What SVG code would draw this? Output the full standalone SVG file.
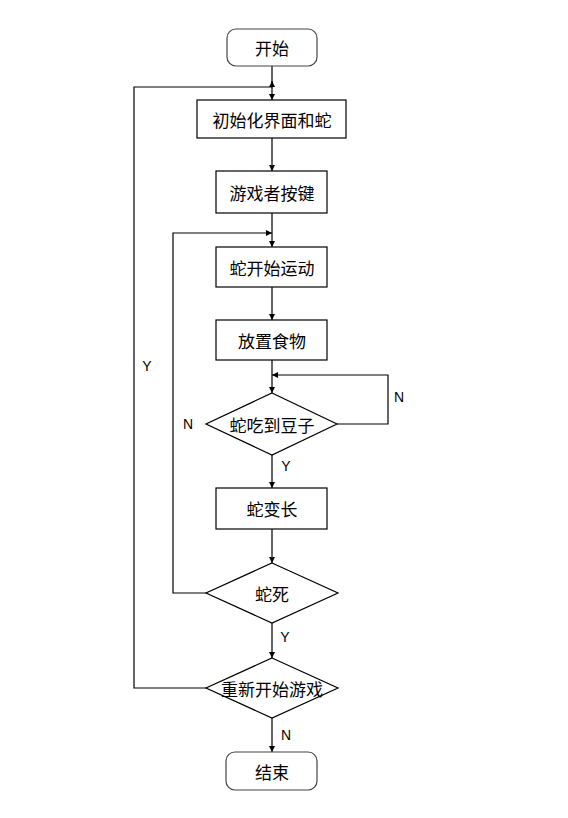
<svg xmlns="http://www.w3.org/2000/svg" width="568" height="818" viewBox="0 0 568 818">
<defs>
<marker id="ah" viewBox="0 0 10 10" refX="10" refY="5" markerWidth="6" markerHeight="6" markerUnits="userSpaceOnUse" orient="auto">
<path d="M0,0 L10,5 L0,10 z" fill="#000"/>
</marker>
</defs>
<style>
.box{fill:#fff;stroke:#000;stroke-width:1.2}
.term{fill:#fff;stroke:#444;stroke-width:1.2}
.ln{fill:none;stroke:#000;stroke-width:1.2}
.cn{font-family:"Noto Sans CJK SC",sans-serif;font-size:17px;fill:#000;text-anchor:middle;dominant-baseline:central}
.lb{font-family:"Liberation Sans",Arial,sans-serif;font-size:14px;fill:#000;text-anchor:middle;dominant-baseline:central}
</style>
<rect width="568" height="818" fill="#fff"/>
<g id="connectors">
<path class="ln" d="M272,66 V100" marker-end="url(#ah)"/>
<path class="ln" d="M206,688 H134 V87 H272 V81" marker-end="url(#ah)"/>
<path class="ln" d="M272,138 V171" marker-end="url(#ah)"/>
<path class="ln" d="M272,213 V247" marker-end="url(#ah)"/>
<path class="ln" d="M206,593 H173 V233 H272" marker-end="url(#ah)"/>
<path class="ln" d="M272,287 V320" marker-end="url(#ah)"/>
<path class="ln" d="M272,360 V393" marker-end="url(#ah)"/>
<path class="ln" d="M337,424 H388 V375 H272" marker-end="url(#ah)"/>
<path class="ln" d="M272,455 V488" marker-end="url(#ah)"/>
<path class="ln" d="M272,529 V563" marker-end="url(#ah)"/>
<path class="ln" d="M272,623 V658" marker-end="url(#ah)"/>
<path class="ln" d="M272,718 V752" marker-end="url(#ah)"/>
<text class="lb" x="147" y="366">Y</text>
<text class="lb" x="188" y="424">N</text>
<text class="lb" x="399" y="397">N</text>
<text class="lb" x="286" y="466">Y</text>
<text class="lb" x="285" y="637">Y</text>
<text class="lb" x="286" y="735">N</text>
</g>
<g id="start"><rect class="term" x="227" y="29" width="90" height="37" rx="9"/><text class="cn" x="272" y="47">开始</text></g>
<g id="init"><rect class="box" x="197" y="100" width="149" height="38"/><text class="cn" x="272" y="119">初始化界面和蛇</text></g>
<g id="key"><rect class="box" x="216" y="171" width="111" height="42"/><text class="cn" x="272" y="192">游戏者按键</text></g>
<g id="move"><rect class="box" x="216" y="247" width="111" height="40"/><text class="cn" x="272" y="267">蛇开始运动</text></g>
<g id="food"><rect class="box" x="216" y="320" width="111" height="40"/><text class="cn" x="272" y="340">放置食物</text></g>
<g id="eat"><polygon class="box" points="272,393 337,424 272,455 206,424"/><text class="cn" x="272" y="424">蛇吃到豆子</text></g>
<g id="grow"><rect class="box" x="216" y="488" width="111" height="41"/><text class="cn" x="272" y="508">蛇变长</text></g>
<g id="die"><polygon class="box" points="272,563 338,593 272,623 206,593"/><text class="cn" x="272" y="593">蛇死</text></g>
<g id="restart"><polygon class="box" points="272,658 338,688 272,718 206,688"/><text class="cn" x="272" y="688">重新开始游戏</text></g>
<g id="end"><rect class="term" x="226" y="752" width="91" height="38" rx="9"/><text class="cn" x="272" y="771">结束</text></g>
</svg>
